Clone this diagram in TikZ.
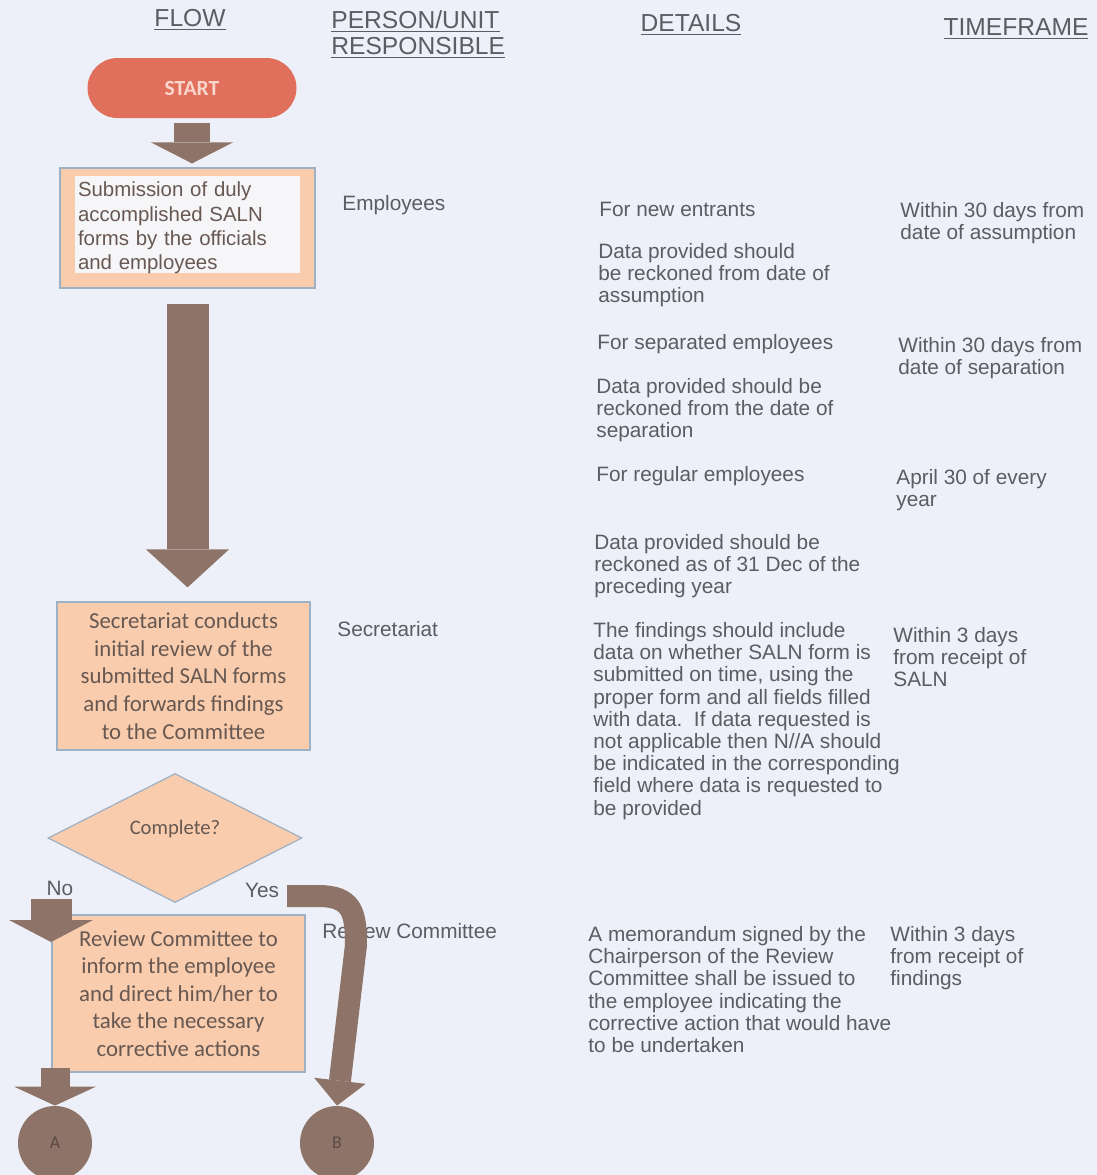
\documentclass[tikz,border=0pt]{standalone}
\usepackage{fontspec}
\setmainfont{Liberation Sans}
\newfontfamily\calibrifont{Carlito}
\usepackage{tikz}
\usetikzlibrary{arrows.meta, positioning, shapes}
\definecolor{paper}{RGB}{237,240,248}
\definecolor{salnred}{RGB}{224,112,92}
\definecolor{salnpink}{RGB}{250,214,204}
\definecolor{salnpeach}{RGB}{248,204,172}
\definecolor{salnwhite}{RGB}{246,246,249}
\definecolor{salnbrown}{RGB}{142,116,104}
\definecolor{salnedge}{RGB}{158,176,196}
\definecolor{salnboxtext}{RGB}{104,88,82}
\definecolor{salntext}{RGB}{92,92,98}

\tikzset{
  colhead/.style={font=\fontsize{12.3}{13}\selectfont, text=salntext, align=left, inner sep=0pt},
  detailtext/.style={font=\fontsize{10.4}{11.1}\selectfont, text=salntext, align=left, anchor=west, inner sep=0pt},
  flowbox/.style={draw=salnedge, fill=salnpeach, line width=0.6pt, align=center, inner sep=0pt,
    font=\calibrifont\fontsize{11.4}{13.8}\selectfont, text=salnboxtext},
  startbox/.style={rectangle, rounded corners=15pt, fill=salnred, minimum width=104.5pt, minimum height=30pt,
    font=\calibrifont\bfseries\fontsize{10.8}{12}\selectfont, text=salnpink},
  decision/.style={diamond, draw=salnedge, fill=salnpeach, line width=0.6pt, minimum width=127pt, minimum height=64.5pt,
    inner sep=0pt, font=\calibrifont\fontsize{10.3}{11}\selectfont, text=salnboxtext},
  pagelink/.style={circle, fill=salnbrown, minimum size=37pt, inner sep=0pt,
    font=\calibrifont\fontsize{9}{10}\selectfont, text=salnbrown!65!black},
  flowarrow/.style={draw=salnbrown, line width=#1}
}

\begin{document}
\begin{tikzpicture}[x=0.5pt, y=-0.5pt]
% Scanned page
\clip (0,0) rectangle (1097,1175);
\fill[paper] (0,0) rectangle (1097,1175);

% Column headings
\node[colhead] (hflow) at (190,20) {\underline{FLOW}};
\node[colhead, anchor=west] (hperson) at (331,35) {\underline{PERSON/UNIT}\\\underline{RESPONSIBLE}};
\node[colhead] (hdetails) at (691,25) {\underline{DETAILS}};
\node[colhead] (htime) at (1016,29) {\underline{TIMEFRAME}};

% Flow column
\node[startbox] (start) at (192,88) {START};
\node[flowbox, minimum width=127.5pt, minimum height=60pt, text width=109.5pt, align=left,
  font=\fontsize{10.2}{12.2}\selectfont,
  path picture={\fill[salnwhite] ([shift={(15,8)}]path picture bounding box.north west)
    rectangle ([shift={(-15,-15)}]path picture bounding box.south east);}]
  (submit) at (187.5,228) {Submission of duly\\accomplished SALN\\forms by the officials\\and employees};
\node[flowbox, minimum width=126.5pt, minimum height=74pt] (secr) at (183.5,676)
  {Secretariat conducts\\initial review of the\\submitted SALN forms\\and forwards findings\\to the Committee};
\node[decision] (check) at (175,838) {\raisebox{2pt}[0pt][0pt]{Complete?}};
\node[flowbox, minimum width=126.5pt, minimum height=78.5pt] (review) at (178.5,993.5)
  {Review Committee to\\inform the employee\\and direct him/her to\\take the necessary\\corrective actions};
\node[pagelink] (linkA) at (55,1143) {A};
\node[pagelink] (linkB) at (337,1143) {B};
\node[detailtext, anchor=center] (lno) at (60,888) {No};
\node[detailtext, anchor=center] (lyes) at (262,890) {Yes};

% Person / unit responsible
\node[detailtext] (pemp) at (342,205) {Employees};
\node[detailtext] (psec) at (337,629) {Secretariat};
\node[detailtext] (prev) at (322,931) {Review Committee};

% Details
\node[detailtext] (dnew) at (599,209) {For new entrants};
\node[detailtext] (dnewdata) at (598,275) {Data provided should\\be reckoned from date of\\assumption};
\node[detailtext] (dsep) at (597,344) {For separated employees};
\node[detailtext] (dsepdata) at (596,410) {Data provided should be\\reckoned from the date of\\separation};
\node[detailtext] (dreg) at (596,476) {For regular employees};
\node[detailtext] (dregdata) at (594,566) {Data provided should be\\reckoned as of 31 Dec of the\\preceding year};
\node[detailtext] (dfind) at (593,721) {The findings should include\\data on whether SALN form is\\submitted on time, using the\\proper form and all fields filled\\with data.\ \ If data requested is\\not applicable then N//A should\\be indicated in the corresponding\\field where data is requested to\\be provided};
\node[detailtext] (dmemo) at (588,989.5) {A memorandum signed by the\\Chairperson of the Review\\Committee shall be issued to\\the employee indicating the\\corrective action that would have\\to be undertaken};

% Timeframe
\node[detailtext] (tnew) at (900,223.5) {Within 30 days from\\date of assumption};
\node[detailtext] (tsep) at (898,358) {Within 30 days from\\date of separation};
\node[detailtext] (treg) at (896,490.5) {April 30 of every\\year};
\node[detailtext] (tsec) at (893,657) {Within 3 days\\from receipt of\\SALN};
\node[detailtext] (trev) at (890,958) {Within 3 days\\from receipt of\\findings};

% Block arrows
\draw[flowarrow=18pt, -{Triangle[width=41pt,length=10.5pt,line width=0pt]}, shorten <=2.5pt, shorten >=2pt]
  (start.south) -- (start.south |- submit.north);
\draw[flowarrow=21pt, -{Triangle[width=41.5pt,length=19pt,line width=0pt]}, shorten <=7.5pt, shorten >=7pt]
  (submit.south) -- (submit.south |- secr.north);
\coordinate (nostart) at (51,899);
\draw[flowarrow=20.5pt, -{Triangle[width=42pt,length=11pt,line width=0pt]}] (nostart) -- ++(0,43);
\draw[flowarrow=14.5pt, -{Triangle[width=41pt,length=9.5pt,line width=0pt]}, shorten <=-2.5pt]
  (linkA.north |- review.south) -- (linkA.north);
\coordinate (yesstart) at (287,896);
\draw[flowarrow=11pt, -{Triangle[width=26pt,length=12.5pt,line width=0pt]}]
  (yesstart) -- (318,896) .. controls (352,896) and (356,912) .. (356,945) -- (linkB.north);
\end{tikzpicture}
\end{document}
